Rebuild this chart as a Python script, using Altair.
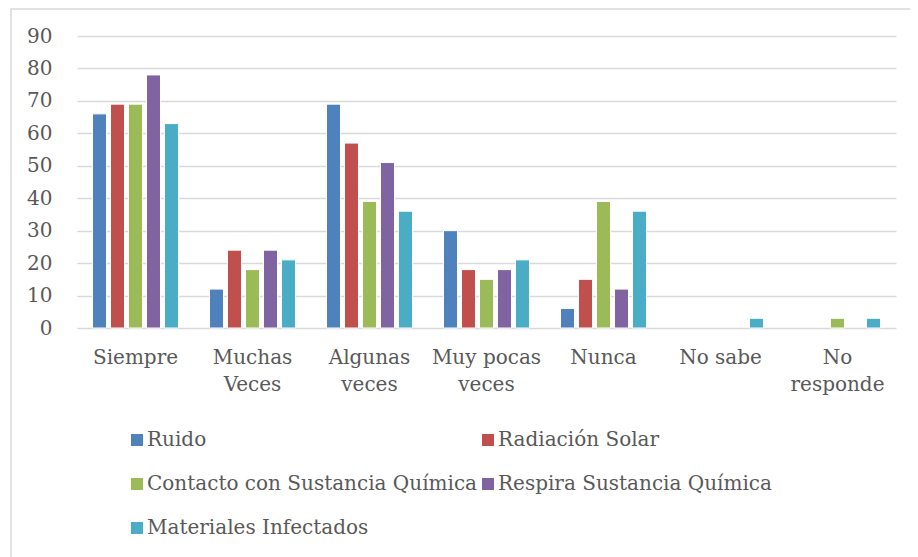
import json
import altair as alt
import pandas as pd

categories = ["Siempre", "Muchas Veces", "Algunas veces", "Muy pocas veces",
              "Nunca", "No sabe", "No responde"]
tick_lines = [["Siempre"], ["Muchas", "Veces"], ["Algunas", "veces"],
              ["Muy pocas", "veces"], ["Nunca"], ["No sabe"], ["No", "responde"]]
series = ["Ruido", "Radiación Solar", "Contacto con Sustancia Química",
          "Respira Sustancia Química", "Materiales Infectados"]
ruido = [66, 12, 69, 30, 6, 0, 0]
radiacion = [69, 24, 57, 18, 15, 0, 0]
contacto = [69, 18, 39, 15, 39, 0, 3]
respira = [78, 24, 51, 18, 12, 0, 0]
materiales = [63, 21, 36, 21, 36, 3, 3]
colors = ["#4F81BD", "#C0504D", "#9BBB59", "#8064A2", "#4BACC6"]
y_ticks = list(range(0, 100, 10))

values = [ruido, radiacion, contacto, respira, materiales]
rows = []
for s, vals in zip(series, values):
    for c, v in zip(categories, vals):
        rows.append({"categoria": c, "serie": s, "valor": v})
df = pd.DataFrame(rows)

expr = "datum.label"
for c, lines in reversed(list(zip(categories, tick_lines))):
    expr = f"datum.label == {json.dumps(c)} ? {json.dumps(lines)} : ({expr})"

FONT = "DejaVu Serif"
TXT = "#595959"

bars = alt.Chart(df).transform_filter("datum.valor > 0").mark_bar(
    stroke="white", strokeWidth=1
).encode(
    x=alt.X("categoria:N", sort=categories,
            scale=alt.Scale(domain=categories, paddingInner=0.265, paddingOuter=0.1325),
            axis=alt.Axis(title=None, labelExpr=expr, labelAngle=0, domain=False,
                          ticks=False, labelPadding=19, labelLineHeight=27,
                          labelFont=FONT, labelFontSize=20, labelColor=TXT)),
    xOffset=alt.XOffset("serie:N", sort=series,
                        scale=alt.Scale(domain=series, paddingInner=0.22, paddingOuter=0)),
    y=alt.Y("valor:Q", scale=alt.Scale(domain=[0, 90], nice=False),
            axis=alt.Axis(title=None, values=y_ticks, domain=False, ticks=False,
                          gridColor="#d9d9d9", gridWidth=1.5, labelPadding=25,
                          labelFont=FONT, labelFontSize=20, labelColor=TXT)),
    color=alt.Color("serie:N", sort=series,
                    scale=alt.Scale(domain=series, range=colors),
                    legend=alt.Legend(title=None, orient="none", legendX=50, legendY=394,
                                      columns=2, direction="horizontal",
                                      symbolType="square", symbolSize=144,
                                      symbolStrokeWidth=0, labelOffset=0,
                                      rowPadding=24, columnPadding=0, padding=0,
                                      labelFont=FONT, labelFontSize=20, labelColor=TXT,
                                      labelLimit=0)),
)

frame = alt.Chart(pd.DataFrame({"k": [0]})).mark_rect(
    fillOpacity=0, stroke="#d9d9d9", strokeWidth=1.5
).encode(x=alt.value(-66), x2=alt.value(900), y=alt.value(-27), y2=alt.value(600))

chart = alt.layer(frame, bars).properties(
    width=819, height=292,
    autosize=alt.AutoSizeParams(type="none"),
    padding={"left": 69, "top": 28, "right": 14, "bottom": 229},
    background="white",
).configure_view(strokeWidth=0)

chart.save("out.html", embed_options={"renderer": "svg", "actions": False})
